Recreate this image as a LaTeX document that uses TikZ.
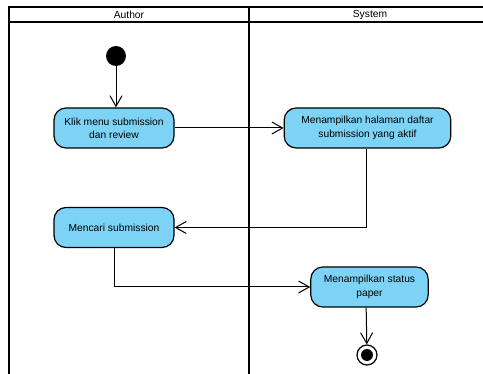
\documentclass[tikz,border=0pt]{standalone}
\usepackage{fontspec}
\setmainfont{Liberation Sans}
\usetikzlibrary{arrows.meta,positioning}

\definecolor{actfill}{RGB}{125,211,245}

\tikzset{
  act/.style={draw=black,fill=actfill,rounded corners=9pt,line width=0.9pt,
    align=center,minimum height=30pt,inner sep=2pt,
    font=\fontsize{7.7}{10}\selectfont},
  flow/.style={line width=0.75pt,-{Straight Barb[length=8pt,width=9pt]}},
  lane/.style={line width=1.5pt}
}

\begin{document}
\begin{tikzpicture}[x=0.75pt,y=-0.75pt]
        \useasboundingbox (0,0) rectangle (483,374);
        % swimlanes
        \draw[lane] (9,380) -- (9,7) -- (495,7);
        \draw[lane] (9,22) -- (495,22);
        \draw[lane] (249,7) -- (249,380);
        \node[font=\fontsize{7.7}{10}\selectfont] (AUTHOR) at (129,14.5) {Author};
        \node[font=\fontsize{7.7}{10}\selectfont] (SYSTEM) at (370,14.5) {System};
        % actions
        \node[circle,fill=black,minimum size=15pt,inner sep=0pt] (START) at (116,56) {};
        \node[act,minimum width=90pt] (KLIK) at (114,128) {Klik menu submission\\dan review};
        \node[act,minimum width=125pt] (TAMPIL) at (367.5,128) {Menampilkan halaman daftar\\submission yang aktif};
        \node[act,minimum width=90pt] (CARI) at (114,227.5) {Mencari submission};
        \node[act,minimum width=88pt] (STATUS) at (369.5,287) {Menampilkan status\\paper};
        \node[circle,draw=black,line width=0.9pt,fill=white,minimum size=15pt,inner sep=0pt] (END) at (367,355) {};
        \fill[black] (END.center) circle (4.5pt);
        % flows
        \draw[flow] (START) -- (START |- KLIK.north);
        \draw[flow] (KLIK) -- (TAMPIL);
        \draw[flow] ([xshift=-0.5]TAMPIL.south) |- (CARI);
        \draw[flow] (CARI) |- (STATUS);
        \draw[flow] ([xshift=-2.5]STATUS.south) -- (END);
    \end{tikzpicture}
\end{document}
